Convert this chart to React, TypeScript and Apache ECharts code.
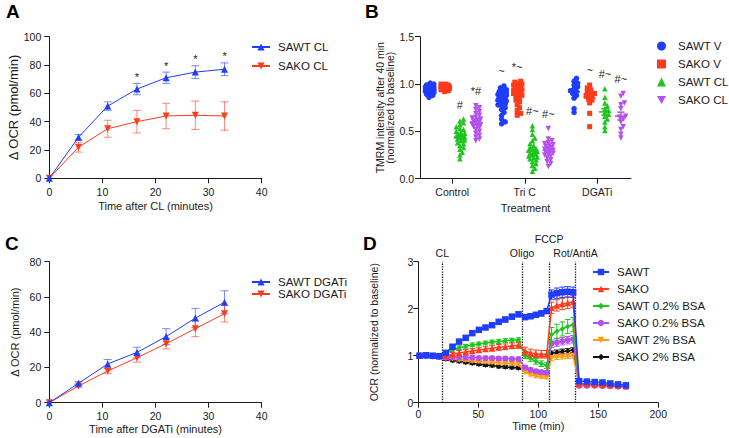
import React, { useEffect, useRef } from "react";
import * as echarts from "echarts";

const FONT = "'Liberation Sans', Arial, Helvetica, sans-serif";
const INK = "#1a1a1a";

const BLUE = "#1f3dfb";
const RED = "#ff3b1c";
const GREEN = "#1fc51f";
const PURPLE = "#b550ee";
const ORANGE = "#ff9c12";
const BLACK = "#111111";
const DOWN_TRI = "path://M0,0L10,0L5,9Z";

// ---- Panel A: OCR after CL ----
const timeA = [0, 5.5, 11, 16.5, 22, 27.5, 33];
const sawtCL = [0, 29, 51, 63, 71, 75, 77];
const sawtCLSem = [0, 2, 3, 4, 4, 4.5, 4.5];
const sakoCL = [0, 22, 35, 40, 44, 44.5, 44];
const sakoCLSem = [0, 3.5, 6, 8, 9, 10, 10];
const starsA = ["", "", "", "*", "*", "*", "*"];

// ---- Panel C: OCR after DGATi ----
const timeC = [0, 5.5, 11, 16.5, 22, 27.5, 33];
const sawtDGATi = [0, 11, 22, 28.5, 37.5, 48, 57];
const sawtDGATiSem = [0, 1, 2.5, 3, 4.5, 5.5, 6.5];
const sakoDGATi = [0, 9.5, 18, 25.5, 33.5, 42, 50.5];
const sakoDGATiSem = [0, 0.8, 1.5, 2.5, 3, 4.5, 4.7];

// ---- Panel B: TMRM per cell ----
const treatments = ["Control", "Tri C", "DGATi"];
const groupsB = ["SAWT V", "SAKO V", "SAWT CL", "SAKO CL"];
const tmrmSawtV = [
  [0.86, 0.88, 0.89, 0.9, 0.91, 0.91, 0.92, 0.92, 0.93, 0.93, 0.93, 0.94, 0.94, 0.94, 0.95, 0.95, 0.95, 0.96, 0.96, 0.97, 0.97, 0.98, 0.98, 0.99, 1.0, 1.01],
  [0.58, 0.6, 0.63, 0.67, 0.7, 0.73, 0.75, 0.77, 0.78, 0.79, 0.8, 0.81, 0.82, 0.83, 0.84, 0.85, 0.86, 0.87, 0.88, 0.89, 0.9, 0.9, 0.91, 0.92, 0.93, 0.94, 0.96, 0.98],
  [0.7, 0.74, 0.85, 0.88, 0.9, 0.92, 0.93, 0.95, 0.97, 0.99, 1.01, 1.03, 1.06],
];
const tmrmSakoV = [
  [0.92, 0.93, 0.94, 0.94, 0.95, 0.95, 0.95, 0.95, 0.96, 0.96, 0.96, 0.96, 0.97, 0.97, 0.97, 0.97, 0.98, 0.98, 0.99, 0.99, 1.0, 1.0],
  [0.67, 0.69, 0.72, 0.75, 0.78, 0.81, 0.83, 0.85, 0.87, 0.88, 0.89, 0.9, 0.91, 0.92, 0.93, 0.94, 0.95, 0.96, 0.97, 0.98, 0.99, 1.0, 1.01, 1.02, 1.03],
  [0.55, 0.69, 0.8, 0.83, 0.85, 0.87, 0.88, 0.89, 0.9, 0.92, 0.94, 0.96, 0.99],
];
const tmrmSawtCL = [
  [0.21, 0.25, 0.28, 0.31, 0.33, 0.35, 0.37, 0.38, 0.4, 0.41, 0.42, 0.43, 0.44, 0.44, 0.45, 0.46, 0.47, 0.48, 0.49, 0.5, 0.52, 0.53, 0.55, 0.57, 0.59, 0.61, 0.63],
  [0.08, 0.11, 0.14, 0.16, 0.18, 0.2, 0.21, 0.22, 0.23, 0.24, 0.25, 0.26, 0.27, 0.28, 0.29, 0.3, 0.31, 0.32, 0.33, 0.35, 0.37, 0.4, 0.43, 0.47, 0.52, 0.56],
  [0.51, 0.55, 0.6, 0.63, 0.66, 0.68, 0.7, 0.72, 0.74, 0.77, 0.8, 0.86, 0.95],
];
const tmrmSakoCL = [
  [0.4, 0.42, 0.44, 0.46, 0.48, 0.5, 0.52, 0.54, 0.55, 0.56, 0.57, 0.58, 0.59, 0.6, 0.61, 0.62, 0.63, 0.64, 0.65, 0.67, 0.69, 0.71, 0.73, 0.75, 0.77],
  [0.13, 0.16, 0.18, 0.2, 0.22, 0.24, 0.25, 0.26, 0.27, 0.28, 0.29, 0.3, 0.31, 0.32, 0.33, 0.34, 0.35, 0.36, 0.37, 0.38, 0.4, 0.42, 0.53],
  [0.43, 0.47, 0.52, 0.55, 0.6, 0.63, 0.65, 0.66, 0.74, 0.78, 0.8, 0.87, 0.9],
];
// significance marks per treatment, per group
const marksB = [
  ["", "", "#", "*#"],
  ["~", "*~", "#~", "#~"],
  ["", "~", "#~", "#~"],
];

// ---- Panel D: Seahorse trace ----
const injectionTimes = [20, 86.5, 109, 131];
const injectionNames = ["CL", "Oligo", "FCCP", "Rot/AntiA"];
const seahorseTime = [
  1, 6.5, 12, 17.5,
  23, 28.5, 34, 39.5, 45, 50.5, 56, 61.5, 67, 72.5, 78, 83.5,
  89, 93.5, 98, 102.5, 107,
  111, 115.5, 120, 124.5, 129,
  134, 140.5, 147, 153.5, 160, 166.5, 173,
];
const ocrSawt = [
  1.0, 1.01, 1.0, 0.99,
  1.06, 1.19, 1.3, 1.38, 1.48, 1.55, 1.6, 1.65, 1.72, 1.77, 1.83, 1.88,
  1.82, 1.84, 1.87, 1.9, 1.95,
  2.3, 2.33, 2.35, 2.36, 2.35,
  0.46, 0.45, 0.44, 0.43, 0.41, 0.39, 0.37,
];
const semSawt = [
  0.02, 0.02, 0.02, 0.02,
  0.03, 0.03, 0.03, 0.04, 0.04, 0.04, 0.04, 0.04, 0.04, 0.05, 0.05, 0.05,
  0.05, 0.05, 0.05, 0.05, 0.05,
  0.1, 0.11, 0.11, 0.11, 0.11,
  0.03, 0.03, 0.03, 0.03, 0.03, 0.03, 0.03,
];
const ocrSako = [
  1.0, 1.02, 1.0, 0.99,
  1.0, 1.03, 1.06, 1.08, 1.1, 1.12, 1.14, 1.16, 1.18, 1.19, 1.21, 1.22,
  1.1, 1.06, 1.04, 1.03, 1.03,
  2.02, 2.07, 2.1, 2.12, 2.15,
  0.4, 0.4, 0.39, 0.38, 0.37, 0.36, 0.35,
];
const semSako = [
  0.02, 0.02, 0.02, 0.02,
  0.04, 0.04, 0.05, 0.05, 0.05, 0.05, 0.05, 0.06, 0.06, 0.06, 0.06, 0.06,
  0.08, 0.08, 0.08, 0.08, 0.08,
  0.12, 0.12, 0.12, 0.12, 0.12,
  0.03, 0.03, 0.03, 0.03, 0.03, 0.03, 0.03,
];
const ocrSawtBsa02 = [
  1.0, 1.0, 0.99, 0.98,
  1.05, 1.12, 1.17, 1.2, 1.23, 1.25, 1.27, 1.29, 1.3, 1.32, 1.33, 1.34,
  1.0, 0.94, 0.88, 0.83, 0.79,
  1.45, 1.52, 1.57, 1.62, 1.66,
  0.4, 0.4, 0.39, 0.38, 0.37, 0.36, 0.35,
];
const semSawtBsa02 = [
  0.02, 0.02, 0.02, 0.02,
  0.04, 0.04, 0.04, 0.04, 0.04, 0.04, 0.04, 0.04, 0.04, 0.04, 0.04, 0.04,
  0.06, 0.06, 0.06, 0.06, 0.06,
  0.15, 0.15, 0.15, 0.15, 0.15,
  0.03, 0.03, 0.03, 0.03, 0.03, 0.03, 0.03,
];
const ocrSakoBsa02 = [
  1.0, 0.99, 0.99, 0.98,
  0.96, 0.97, 0.97, 0.96, 0.96, 0.95, 0.95, 0.95, 0.94, 0.94, 0.93, 0.93,
  0.75, 0.7, 0.67, 0.65, 0.64,
  1.25, 1.28, 1.31, 1.33, 1.35,
  0.36, 0.36, 0.36, 0.35, 0.35, 0.34, 0.34,
];
const semSakoBsa02 = [
  0.02, 0.02, 0.02, 0.02,
  0.04, 0.04, 0.04, 0.04, 0.04, 0.04, 0.04, 0.04, 0.04, 0.04, 0.04, 0.04,
  0.04, 0.04, 0.04, 0.04, 0.04,
  0.08, 0.08, 0.08, 0.08, 0.08,
  0.03, 0.03, 0.03, 0.03, 0.03, 0.03, 0.03,
];
const ocrSawtBsa2 = [
  1.0, 0.99, 0.99, 0.98,
  0.95, 0.94, 0.92, 0.91, 0.89, 0.88, 0.87, 0.86, 0.85, 0.84, 0.83, 0.82,
  0.65, 0.6, 0.57, 0.55, 0.54,
  0.95, 0.97, 0.98, 0.99, 1.0,
  0.38, 0.38, 0.37, 0.37, 0.36, 0.36, 0.35,
];
const semSawtBsa2 = [
  0.02, 0.02, 0.02, 0.02,
  0.03, 0.03, 0.03, 0.03, 0.03, 0.03, 0.03, 0.03, 0.03, 0.03, 0.03, 0.03,
  0.03, 0.03, 0.03, 0.03, 0.03,
  0.05, 0.05, 0.05, 0.05, 0.05,
  0.02, 0.02, 0.02, 0.02, 0.02, 0.02, 0.02,
];
const ocrSakoBsa2 = [
  1.0, 0.99, 0.98, 0.97,
  0.93, 0.9, 0.88, 0.86, 0.84, 0.82, 0.8, 0.79, 0.77, 0.76, 0.75, 0.74,
  0.72, 0.68, 0.65, 0.63, 0.62,
  1.05, 1.07, 1.09, 1.1, 1.12,
  0.38, 0.38, 0.37, 0.37, 0.36, 0.36, 0.35,
];
const semSakoBsa2 = [
  0.02, 0.02, 0.02, 0.02,
  0.03, 0.03, 0.03, 0.03, 0.03, 0.03, 0.03, 0.03, 0.03, 0.03, 0.03, 0.03,
  0.03, 0.03, 0.03, 0.03, 0.03,
  0.05, 0.05, 0.05, 0.05, 0.05,
  0.02, 0.02, 0.02, 0.02, 0.02, 0.02, 0.02,
];

// ---------------------------------------------------------------------------

const stripPrefix = (name: string) => name.split("|")[1];

function mean(a: number[]) {
  return a.reduce((s, v) => s + v, 0) / a.length;
}
function sem(a: number[]) {
  const m = mean(a);
  const sd = Math.sqrt(a.reduce((s, v) => s + (v - m) * (v - m), 0) / (a.length - 1));
  return sd / Math.sqrt(a.length);
}

// Horizontal spread of the dots in a column so that they do not pile up.
const SWARM_X_PX = 72.6;
const SWARM_Y_PX = 94.5;
function swarmOffsets(values: number[]): number[] {
  const order = values.map((_, i) => i).sort((a, b) => values[a] - values[b]);
  const placed: [number, number][] = [];
  const out = values.map(() => 0);
  const step = 1.2;
  const minD = 3.2;
  const maxK = 7;
  for (const i of order) {
    const py = values[i] * SWARM_Y_PX;
    let best = 0;
    let bestD = -1;
    for (let k = 0; k <= maxK; k++) {
      const dx = (k % 2 ? 1 : -1) * Math.ceil(k / 2) * step;
      let d = Infinity;
      for (const [qx, qy] of placed) d = Math.min(d, Math.hypot(qx - dx, qy - py));
      if (d >= minD) {
        best = dx;
        bestD = d;
        break;
      }
      if (d > bestD) {
        bestD = d;
        best = dx;
      }
    }
    placed.push([best, py]);
    out[i] = best / SWARM_X_PX;
  }
  return out;
}

function errorBarSeries(
  axis: number,
  xs: number[],
  ys: number[],
  errs: number[],
  color: string,
  capHalf: number,
  opacity: number,
  marks?: string[]
) {
  return {
    type: "custom",
    xAxisIndex: axis,
    yAxisIndex: axis,
    silent: true,
    z: 1,
    data: xs.map((x, i) => [x, ys[i], errs[i]]),
    renderItem: (params: any, api: any) => {
      const x = api.value(0);
      const y = api.value(1);
      const e = api.value(2);
      const top = api.coord([x, y + e]);
      const bot = api.coord([x, y - e]);
      const style = { stroke: color, lineWidth: 1, opacity };
      const children: any[] = [];
      if (e > 0) {
        children.push(
          { type: "line", shape: { x1: top[0], y1: top[1], x2: bot[0], y2: bot[1] }, style },
          { type: "line", shape: { x1: top[0] - capHalf, y1: top[1], x2: top[0] + capHalf, y2: top[1] }, style },
          { type: "line", shape: { x1: bot[0] - capHalf, y1: bot[1], x2: bot[0] + capHalf, y2: bot[1] }, style }
        );
      }
      const mark = marks ? marks[params.dataIndex] : "";
      if (mark) {
        children.push({
          type: "text",
          x: top[0],
          y: top[1] - 1,
          style: { text: mark, fill: INK, font: `11px ${FONT}`, align: "center", verticalAlign: "bottom" },
        });
      }
      return { type: "group", children };
    },
  };
}

function lineSeries(
  name: string,
  axis: number,
  xs: number[],
  ys: number[],
  color: string,
  symbol: string,
  size: number,
  width: number,
  z: number
) {
  return {
    type: "line",
    name,
    xAxisIndex: axis,
    yAxisIndex: axis,
    data: xs.map((x, i) => [x, ys[i]]),
    symbol,
    symbolSize: size,
    showAllSymbol: true,
    itemStyle: { color },
    lineStyle: { color, width },
    z,
  };
}

function axisBase(gridIndex: number, labelMargin: number) {
  return {
    gridIndex,
    type: "value",
    axisLine: { show: true, onZero: false, lineStyle: { color: INK, width: 1 } },
    axisTick: { show: true, length: 5, lineStyle: { color: INK, width: 1 } },
    axisLabel: { color: INK, fontSize: 10.5, fontFamily: FONT, margin: labelMargin },
    splitLine: { show: false },
    nameLocation: "middle",
    nameTextStyle: { color: INK, fontSize: 11, fontFamily: FONT },
  };
}

function legendBase(names: string[], left: number, top: number, extra: any, textPad = 3) {
  return {
    data: names,
    orient: "vertical",
    left,
    top,
    selectedMode: false,
    padding: 0,
    formatter: stripPrefix,
    textStyle: { color: INK, fontSize: 11.5, fontFamily: FONT, padding: [0, 0, 0, textPad] },
    ...extra,
  };
}

function buildOption() {
  const colorsB = [BLUE, RED, GREEN, PURPLE];
  const symbolsB = ["circle", "rect", "triangle", DOWN_TRI];
  const sizesB = [5.5, 5, 5.5, 5.5];
  const offsetsB = [-0.32, -0.105, 0.105, 0.325];
  const tmrmB = [tmrmSawtV, tmrmSakoV, tmrmSawtCL, tmrmSakoCL];

  const panelB: any[] = [];
  tmrmB.forEach((byTreatment, g) => {
    const pts: number[][] = [];
    byTreatment.forEach((vals, t) => {
      const offs = swarmOffsets(vals);
      vals.forEach((v, i) => pts.push([t + offsetsB[g] + offs[i], v]));
    });
    panelB.push({
      type: "scatter",
      name: "B|" + groupsB[g],
      xAxisIndex: 1,
      yAxisIndex: 1,
      data: pts,
      symbol: symbolsB[g],
      symbolSize: sizesB[g],
      itemStyle: { color: colorsB[g], opacity: 1 },
      z: 2,
    });
    panelB.push({
      type: "custom",
      xAxisIndex: 1,
      yAxisIndex: 1,
      silent: true,
      z: 3,
      data: byTreatment.map((vals, t) => [t + offsetsB[g], mean(vals), sem(vals), Math.max(...vals)]),
      renderItem: (params: any, api: any) => {
        const x = api.value(0);
        const m = api.value(1);
        const s = api.value(2);
        const mx = api.value(3);
        const c = api.coord([x, m]);
        const hi = api.coord([x, m + s]);
        const lo = api.coord([x, m - s]);
        const peak = api.coord([x, mx]);
        const style = { stroke: colorsB[g], lineWidth: 1.5 };
        const children: any[] = [
          { type: "line", shape: { x1: c[0] - 6, y1: c[1], x2: c[0] + 6, y2: c[1] }, style },
          { type: "line", shape: { x1: hi[0], y1: hi[1], x2: lo[0], y2: lo[1] }, style },
          { type: "line", shape: { x1: hi[0] - 3.5, y1: hi[1], x2: hi[0] + 3.5, y2: hi[1] }, style },
          { type: "line", shape: { x1: lo[0] - 3.5, y1: lo[1], x2: lo[0] + 3.5, y2: lo[1] }, style },
        ];
        const mark = marksB[params.dataIndex][g];
        if (mark) {
          children.push({
            type: "text",
            x: peak[0],
            y: peak[1] - 9,
            style: { text: mark, fill: INK, font: `11px ${FONT}`, align: "center", verticalAlign: "bottom" },
          });
        }
        return { type: "group", children };
      },
    });
  });

  const dSeries = [
    { name: "D|SAWT", ys: ocrSawt, es: semSawt, color: BLUE, symbol: "rect", size: 6.5, z: 16 },
    { name: "D|SAKO", ys: ocrSako, es: semSako, color: RED, symbol: "triangle", size: 6.5, z: 15 },
    { name: "D|SAWT 0.2% BSA", ys: ocrSawtBsa02, es: semSawtBsa02, color: GREEN, symbol: "diamond", size: 5.5, z: 14 },
    { name: "D|SAKO 0.2% BSA", ys: ocrSakoBsa02, es: semSakoBsa02, color: PURPLE, symbol: "circle", size: 6, z: 13 },
    { name: "D|SAWT 2% BSA", ys: ocrSawtBsa2, es: semSawtBsa2, color: ORANGE, symbol: DOWN_TRI, size: 6, z: 12 },
    { name: "D|SAKO 2% BSA", ys: ocrSakoBsa2, es: semSakoBsa2, color: BLACK, symbol: "diamond", size: 5.5, z: 11 },
  ];
  const panelD: any[] = [];
  dSeries.forEach((s, i) => {
    const eb: any = errorBarSeries(3, seahorseTime, s.ys, s.es, s.color, 2.8, 1);
    eb.z = s.z - 0.5;
    panelD.push(eb);
    const ln: any = lineSeries(s.name, 3, seahorseTime, s.ys, s.color, s.symbol, s.size, 1.5, s.z);
    if (i === 0) {
      ln.markLine = {
        silent: true,
        symbol: ["none", "none"],
        lineStyle: { type: "dotted", color: "#111", width: 1.3 },
        label: { show: true, position: "end", color: INK, fontSize: 10.5, fontFamily: FONT },
        data: injectionTimes.map((t, k) => ({
          xAxis: t,
          label: { formatter: injectionNames[k], distance: k === 2 ? 17 : 3 },
        })),
      };
    }
    panelD.push(ln);
  });

  return {
    animation: false,
    backgroundColor: "#ffffff",
    textStyle: { fontFamily: FONT },
    grid: [
      { left: 49.3, top: 36.7, width: 212.4, height: 141.6 },
      { left: 420, top: 36.7, width: 211, height: 142 },
      { left: 49.3, top: 261.7, width: 212.4, height: 141 },
      { left: 418.3, top: 261.7, width: 240, height: 141 },
    ],
    xAxis: [
      { ...axisBase(0, 8), min: 0, max: 40, interval: 10, name: "Time after CL (minutes)", nameGap: 22 },
      {
        ...axisBase(1, 8),
        min: -0.445,
        max: 2.465,
        name: "Treatment",
        nameGap: 24,
        axisTick: { show: true, length: 5, lineStyle: { color: INK, width: 1 }, customValues: [0, 1, 2] },
        axisLabel: {
          color: INK,
          fontSize: 10.5,
          fontFamily: FONT,
          margin: 8,
          customValues: [0, 1, 2],
          formatter: (v: number) => treatments[Math.round(v)],
        },
      },
      { ...axisBase(2, 8), min: 0, max: 40, interval: 10, name: "Time after DGATi (minutes)", nameGap: 21 },
      { ...axisBase(3, 6), min: 0, max: 200, interval: 50, name: "Time (min)", nameGap: 18 },
    ],
    yAxis: [
      {
        ...axisBase(0, 8),
        min: 0,
        max: 100,
        interval: 20,
        name: "\u0394 OCR (pmol/min)",
        nameGap: 28,
        nameTextStyle: { color: INK, fontSize: 13, fontFamily: FONT },
      },
      {
        ...axisBase(1, 6),
        min: 0,
        max: 1.5,
        interval: 0.5,
        name: "TMRM intensity after 40 min\n(normalized to baseline)",
        nameGap: 21,
        nameTextStyle: { color: INK, fontSize: 10.5, fontFamily: FONT, lineHeight: 10 },
        axisLabel: { color: INK, fontSize: 10.5, fontFamily: FONT, margin: 6, formatter: (v: number) => v.toFixed(1) },
      },
      { ...axisBase(2, 8), min: 0, max: 80, interval: 20, name: "\u0394 OCR (pmol/min)", nameGap: 29 },
      {
        ...axisBase(3, 5),
        min: 0,
        max: 3,
        interval: 1,
        name: "OCR (normalized to baseline)",
        nameGap: 39,
        nameTextStyle: { color: INK, fontSize: 10.5, fontFamily: FONT },
      },
    ],
    legend: [
      legendBase(["A|SAWT CL", "A|SAKO CL"], 251, 41, { itemWidth: 18, itemHeight: 9, itemGap: 7 }),
      legendBase(
        groupsB.map((g) => "B|" + g),
        657,
        40,
        { itemWidth: 9, itemHeight: 9, itemGap: 6 },
        7
      ),
      legendBase(["C|SAWT DGATi", "C|SAKO DGATi"], 251, 276, { itemWidth: 18, itemHeight: 9, itemGap: 0 }),
      legendBase(
        dSeries.map((s) => s.name),
        592,
        266,
        { itemWidth: 16, itemHeight: 8, itemGap: 5 }
      ),
    ],
    graphic: [
      { type: "text", x: 6, y: 1.5, style: { text: "A", font: `bold 19px ${FONT}`, fill: "#000", verticalAlign: "top" } },
      { type: "text", x: 365, y: 1.5, style: { text: "B", font: `bold 19px ${FONT}`, fill: "#000", verticalAlign: "top" } },
      { type: "text", x: 5, y: 233.5, style: { text: "C", font: `bold 19px ${FONT}`, fill: "#000", verticalAlign: "top" } },
      { type: "text", x: 363, y: 233.5, style: { text: "D", font: `bold 19px ${FONT}`, fill: "#000", verticalAlign: "top" } },
    ],
    series: [
      errorBarSeries(0, timeA, sawtCL, sawtCLSem, BLUE, 4, 0.6, starsA),
      errorBarSeries(0, timeA, sakoCL, sakoCLSem, RED, 4, 0.6),
      lineSeries("A|SAWT CL", 0, timeA, sawtCL, BLUE, "triangle", 7, 1, 5),
      lineSeries("A|SAKO CL", 0, timeA, sakoCL, RED, DOWN_TRI, 7, 1, 4),
      ...panelB,
      errorBarSeries(2, timeC, sawtDGATi, sawtDGATiSem, BLUE, 4, 0.6),
      errorBarSeries(2, timeC, sakoDGATi, sakoDGATiSem, RED, 4, 0.6),
      lineSeries("C|SAWT DGATi", 2, timeC, sawtDGATi, BLUE, "triangle", 7, 1, 5),
      lineSeries("C|SAKO DGATi", 2, timeC, sakoDGATi, RED, DOWN_TRI, 7, 1, 4),
      ...panelD,
    ],
  };
}

export default function App() {
  const ref = useRef<HTMLDivElement>(null);
  useEffect(() => {
    if (!ref.current) return;
    const chart = echarts.init(ref.current, null, { renderer: "svg" });
    chart.setOption(buildOption() as any);
    return () => chart.dispose();
  }, []);
  return (
    <div
      ref={ref}
      style={{ position: "absolute", left: 0, top: 0, width: 729, height: 438, background: "#fff" }}
    />
  );
}
